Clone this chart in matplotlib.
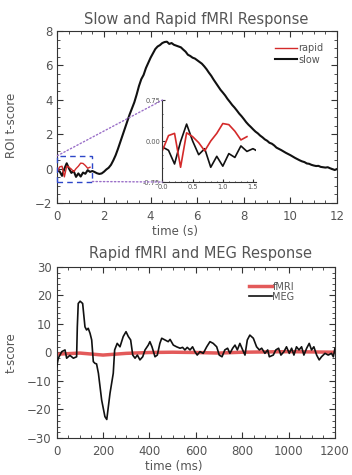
import numpy as np
import matplotlib
matplotlib.use('Agg')
import matplotlib.pyplot as plt
from matplotlib.patches import Rectangle, ConnectionPatch
from matplotlib.ticker import MultipleLocator, AutoMinorLocator, FormatStrFormatter

# -- Top panel: slow vs rapid fMRI ROI t-score, sampled every 0.1 s --
SLOW_T = np.round(np.arange(121) * 0.1, 1)
SLOW_SCORE = [
    -0.11, -0.17, -0.42, -0.01, 0.31, 0.00, -0.25, -0.14, -0.48, -0.28,   # 0.0-0.9
    -0.46, -0.23, -0.30, -0.09, -0.19, -0.14, -0.20, -0.27, -0.31, -0.28,  # 1.0-1.9
    -0.18, -0.05, 0.05, 0.22, 0.48, 0.78, 1.15, 1.55, 1.95, 2.35,         # 2.0-2.9
    2.75, 3.15, 3.50, 3.85, 4.30, 4.80, 5.20, 5.45, 5.85, 6.15,           # 3.0-3.9
    6.45, 6.70, 6.95, 7.10, 7.18, 7.30, 7.36, 7.38, 7.25, 7.30,           # 4.0-4.9
    7.20, 7.15, 7.10, 7.05, 6.92, 6.80, 6.62, 6.55, 6.45, 6.40,           # 5.0-5.9
    6.30, 6.20, 6.10, 5.95, 5.78, 5.58, 5.40, 5.18, 4.98, 4.78,           # 6.0-6.9
    4.58, 4.42, 4.25, 4.05, 3.88, 3.70, 3.55, 3.38, 3.20, 3.05,           # 7.0-7.9
    2.88, 2.70, 2.55, 2.42, 2.28, 2.15, 2.05, 1.92, 1.82, 1.70,           # 8.0-8.9
    1.62, 1.50, 1.45, 1.35, 1.22, 1.15, 1.08, 1.00, 0.92, 0.85,           # 9.0-9.9
    0.78, 0.70, 0.62, 0.55, 0.48, 0.42, 0.38, 0.30, 0.28, 0.22,           # 10.0-10.9
    0.18, 0.15, 0.16, 0.10, 0.08, 0.06, 0.08, 0.02, -0.03, -0.08,         # 11.0-11.9
    -0.02,                                                                # 12.0
]
RAPID_T = SLOW_T[:15]
RAPID_SCORE = [-0.17, 0.10, 0.14, -0.48, 0.15, 0.08, -0.03, -0.18,
               0.00, 0.14, 0.32, 0.30, 0.18, 0.02, 0.08]

# zoomed window shown in the inset
ZOOM_X = (0.0, 1.5)
ZOOM_Y = (-0.75, 0.75)

# -- Bottom panel: rapid fMRI vs MEG t-score --
FMRI_MS = [0, 100, 200, 300, 400, 500, 600, 700, 800, 900, 1000, 1100, 1200]
FMRI_SCORE = [-0.6, -0.2, -0.9, -0.3, 0.0, 0.1, 0.0, -0.2, 0.1, 0.2, 0.3, 0.2, 0.1]

MEG_MS = [0, 7, 22, 36, 43, 57, 72, 86, 89, 93, 101, 112, 122, 129, 136, 144,
          151, 158, 165, 172, 180, 194, 208, 216, 230, 244, 250, 261, 273, 287,
          299, 309, 319, 328, 338, 348, 359, 371, 381, 395, 402, 411, 424, 434,
          445, 453, 467, 481, 489, 503, 517, 532, 543, 553, 563, 575, 586, 596,
          606, 618, 632, 647, 661, 675, 690, 701, 713, 725, 737, 747, 759, 769,
          779, 790, 802, 812, 822, 833, 848, 862, 874, 884, 898, 910, 917, 934,
          945, 957, 967, 980, 991, 1003, 1013, 1023, 1034, 1045, 1056, 1066,
          1078, 1089, 1099, 1109, 1121, 1132, 1142, 1157, 1171, 1185, 1193, 1200]
MEG_SCORE = [-5, -2, 0.3, 0.9, -2, -1, -2, -1.5, 9, 17.2, 18, 17.2, 9, 7.9, 8.5,
             6.7, 4.4, -3.2, -3.8, -4, -7.3, -16.7, -22.5, -23.5, -14.3, -7.3,
             0.9, 3.2, 2, 5.6, 7.3, 5.6, 4.4, -0.9, -2, -0.9, -2.6, -1.5, 0.9,
             2.6, 3.8, 2, -1.5, -0.9, 3.2, 5, 4.4, 3.8, 4.6, 2.6, 2, 1.5, 1.8,
             0.9, 1.8, 0.9, 2, 0.3, -0.9, 0.3, -0.3, 2, 3.8, 3.2, 2, -0.9, -1.5,
             0.9, 1.5, -0.3, 1.5, 2.6, 0.9, 3.2, 0.9, -0.9, 4.4, 6.1, 5, 2, 0.9,
             1.5, -0.3, 0.9, -1.5, -0.9, 0.9, 1.5, -0.9, 0.3, 2, -0.3, 1.5, -0.9,
             2, 0.9, 2, -0.9, 1.5, 3.2, 0.9, 2, -0.9, -2.6, -1.5, -0.3, -0.9,
             -0.3, -1.5, 1.5]

TEXT = '#555555'
AXC = '#333333'
RED = '#d42a2a'
RED_LIGHT = '#e35a5a'
BLACK = '#111111'

plt.rcParams.update({
    'font.family': 'DejaVu Sans',
    'font.size': 8.5,
    'text.color': TEXT,
    'axes.labelcolor': TEXT,
    'axes.edgecolor': AXC,
    'axes.linewidth': 0.8,
    'xtick.color': AXC, 'ytick.color': AXC,
    'xtick.labelcolor': TEXT, 'ytick.labelcolor': TEXT,
    'xtick.direction': 'in', 'ytick.direction': 'in',
    'xtick.top': True, 'ytick.right': True,
    'xtick.major.size': 4, 'ytick.major.size': 4,
    'xtick.minor.size': 2, 'ytick.minor.size': 2,
    'xtick.minor.visible': True, 'ytick.minor.visible': True,
    'xtick.major.pad': 5, 'ytick.major.pad': 3.5,
})

fig = plt.figure(figsize=(3.52, 4.75), dpi=100)

# ---------------- top panel ----------------
ax = fig.add_axes([0.163, 0.5726, 0.7946, 0.3621])
ax.plot(SLOW_T, SLOW_SCORE, color=BLACK, lw=1.5, label='slow', zorder=3)
ax.plot(RAPID_T, RAPID_SCORE, color=RED, lw=1.0, label='rapid', zorder=4)
ax.set_xlim(0, 12)
ax.set_ylim(-2, 8)
ax.xaxis.set_major_locator(MultipleLocator(2))
ax.yaxis.set_major_locator(MultipleLocator(2))
ax.xaxis.set_minor_locator(AutoMinorLocator(4))
ax.yaxis.set_minor_locator(AutoMinorLocator(4))
ax.set_xlabel('time (s)')
ax.set_ylabel('ROI t-score')
ax.xaxis.set_label_coords(0.42, -0.125)
ax.yaxis.set_label_coords(-0.14, 0.45)

h, l = ax.get_legend_handles_labels()
ax.legend(h[::-1], l[::-1], loc='upper right', bbox_to_anchor=(0.95, 0.93),
          frameon=False, fontsize=7, handlelength=2.3, handletextpad=0.1,
          labelspacing=0.15, borderpad=0, borderaxespad=0)

# zoom box + connectors
ax.add_patch(Rectangle((ZOOM_X[0], ZOOM_Y[0]), ZOOM_X[1] - ZOOM_X[0],
                       ZOOM_Y[1] - ZOOM_Y[0], fill=False, ec='#2d47c8',
                       lw=1.0, ls=(0, (4, 3)), clip_on=False, zorder=5))

axin = fig.add_axes([0.4616, 0.6168, 0.2656, 0.1726])
axin.patch.set_alpha(0)
axin.plot(SLOW_T, SLOW_SCORE, color=BLACK, lw=1.2)
axin.plot(RAPID_T, RAPID_SCORE, color=RED, lw=1.2)
axin.set_xlim(0, 1.55)
axin.set_ylim(*ZOOM_Y)
for s in ('top', 'right'):
    axin.spines[s].set_visible(False)
axin.tick_params(top=False, right=False, labelsize=4.8, length=2, pad=1.5)
axin.tick_params(which='minor', top=False, right=False, length=1)
axin.xaxis.set_major_locator(MultipleLocator(0.5))
axin.yaxis.set_major_locator(MultipleLocator(0.75))
axin.xaxis.set_minor_locator(AutoMinorLocator(5))
axin.yaxis.set_minor_locator(AutoMinorLocator(3))
axin.xaxis.set_major_formatter(FormatStrFormatter('%.1f'))
axin.yaxis.set_major_formatter(FormatStrFormatter('%.2f'))

for pa, pb in [((ZOOM_X[0], ZOOM_Y[1]), (ZOOM_X[0], ZOOM_Y[1])),
               ((ZOOM_X[1], ZOOM_Y[0]), (ZOOM_X[0], ZOOM_Y[0]))]:
    fig.add_artist(ConnectionPatch(xyA=pa, coordsA=ax.transData,
                                   xyB=pb, coordsB=axin.transData,
                                   color='#9a6fc8', lw=1.0, ls=':'))

fig.text(0.558, 0.958, 'Slow and Rapid fMRI Response', ha='center',
         va='center', fontsize=10.5)

# ---------------- bottom panel ----------------
bx = fig.add_axes([0.161, 0.0779, 0.7906, 0.36])
bx.plot(FMRI_MS, FMRI_SCORE, color=RED_LIGHT, lw=2.5, label='fMRI', zorder=2)
bx.plot(MEG_MS, MEG_SCORE, color=BLACK, lw=1.2, label='MEG', zorder=3)
bx.set_xlim(0, 1200)
bx.set_ylim(-30, 30)
bx.xaxis.set_major_locator(MultipleLocator(200))
bx.yaxis.set_major_locator(MultipleLocator(10))
bx.xaxis.set_minor_locator(AutoMinorLocator(4))
bx.yaxis.set_minor_locator(AutoMinorLocator(5))
bx.set_xlabel('time (ms)')
bx.set_ylabel('t-score')
bx.xaxis.set_label_coords(0.42, -0.13)
bx.yaxis.set_label_coords(-0.14, 0.5)
bx.legend(loc='upper right', bbox_to_anchor=(0.855, 0.915), frameon=False,
          fontsize=7, handlelength=2.3, handletextpad=0.1, labelspacing=0.0,
          borderpad=0, borderaxespad=0)

fig.text(0.571, 0.467, 'Rapid fMRI and MEG Response', ha='center',
         va='center', fontsize=10.5)

fig.savefig('out.png', dpi=100)
